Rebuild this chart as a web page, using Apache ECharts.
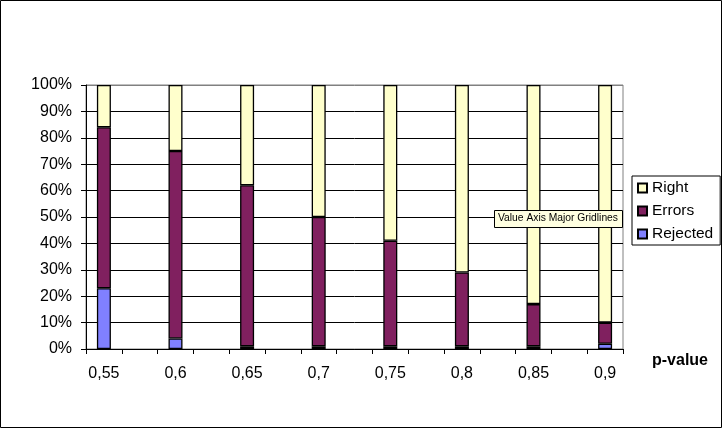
<!DOCTYPE html>
<html>
<head>
<meta charset="utf-8">
<script src="https://cdn.jsdelivr.net/npm/echarts@6/dist/echarts.min.js"></script>
<style>
  html, body { margin: 0; padding: 0; background: #fff; }
  #chart { width: 726px; height: 433px; }
</style>
</head>
<body>
<div id="chart"></div>
<script>
  // p-values shown on the axis; every other slot on the axis is empty
  var pValues = ['0,55', '0,6', '0,65', '0,7', '0,75', '0,8', '0,85', '0,9']
  var rejected = [23, 4, 1, 1, 1, 1, 1, 2]
  var errors = [61, 71, 61, 49, 40, 28, 16, 8]
  var right = [16, 25, 38, 50, 59, 71, 83, 90]
  var yTicks = [0, 10, 20, 30, 40, 50, 60, 70, 80, 90, 100]

  var font = '"Liberation Sans", Arial, sans-serif'

  // interleave empty slots between the p-values
  var slots = []
  pValues.forEach(function (p, i) {
    slots.push(p)
    if (i < pValues.length - 1) slots.push('')
  })
  var slotIds = slots.map(function (s, i) { return 's' + i })
  function spread (arr) {
    var out = []
    arr.forEach(function (v, i) {
      out.push(v)
      if (i < arr.length - 1) out.push(null)
    })
    return out
  }

  // split lines: all black except the top one, which is the grey plot border
  var splitColors = yTicks.map(function (t, i) {
    return i === yTicks.length - 1 ? '#808080' : '#000000'
  })

  function barSeries (name, color, data) {
    return {
      name: name,
      type: 'bar',
      stack: 'total',
      barWidth: 14,
      itemStyle: { color: color, borderColor: '#000', borderWidth: 1.3 },
      data: spread(data)
    }
  }

  var myChart = echarts.init(document.getElementById('chart'))
  var option = {
    animation: false,
    backgroundColor: '#fff',
    grid: {
      left: 86,
      top: 85,
      width: 537,
      height: 264,
      show: true,
      borderColor: '#808080',
      borderWidth: 1,
      backgroundColor: 'transparent'
    },
    legend: {
      orient: 'vertical',
      left: 632,
      top: 176,
      data: ['Right', 'Errors', 'Rejected'],
      icon: 'rect',
      itemWidth: 9,
      itemHeight: 9,
      itemGap: 7,
      padding: [4, 7, 3, 5],
      borderColor: '#000',
      borderWidth: 1,
      textStyle: { fontFamily: font, fontSize: 15.5, color: '#000', lineHeight: 16 }
    },
    xAxis: {
      type: 'category',
      data: slotIds,
      axisLine: { lineStyle: { color: '#000', width: 1 } },
      axisTick: { show: true, interval: 0, length: 5, lineStyle: { color: '#000' } },
      axisLabel: {
        interval: 0,
        margin: 17,
        fontFamily: font,
        fontSize: 16,
        color: '#000',
        formatter: function (v) { return slots[slotIds.indexOf(v)] }
      },
      splitLine: { show: false }
    },
    yAxis: {
      type: 'value',
      min: 0,
      max: 100,
      interval: 10,
      axisLine: { show: true, lineStyle: { color: '#000', width: 1 } },
      axisTick: { show: true, length: 5, lineStyle: { color: '#000' } },
      axisLabel: {
        margin: 14,
        fontFamily: font,
        fontSize: 16,
        color: '#000',
        formatter: '{value}%'
      },
      splitLine: { show: true, lineStyle: { color: splitColors, width: 1 } }
    },
    graphic: [
      {
        type: 'rect',
        shape: { x: 0.5, y: 0.5, width: 721, height: 427 },
        style: { fill: 'transparent', stroke: '#000', lineWidth: 1 },
        silent: true,
        z: 100
      },
      {
        type: 'text',
        left: 652,
        top: 353,
        style: { text: 'p-value', fontFamily: font, fontSize: 16, fontWeight: 'bold', fill: '#000' }
      },
      // the hover hint that was on screen when the chart was captured
      {
        type: 'rect',
        z: 200,
        shape: { x: 494.5, y: 210.5, width: 128, height: 17 },
        style: { fill: '#FFFFE1', stroke: '#000', lineWidth: 1 }
      },
      {
        type: 'text',
        z: 201,
        x: 498,
        y: 213.5,
        style: { text: 'Value Axis Major Gridlines', fontFamily: font, fontSize: 10.3, fill: '#000' }
      }
    ],
    series: [
      barSeries('Rejected', '#8080FF', rejected),
      barSeries('Errors', '#80205F', errors),
      barSeries('Right', '#FFFFCC', right)
    ]
  }
  myChart.setOption(option)
</script>
</body>
</html>
